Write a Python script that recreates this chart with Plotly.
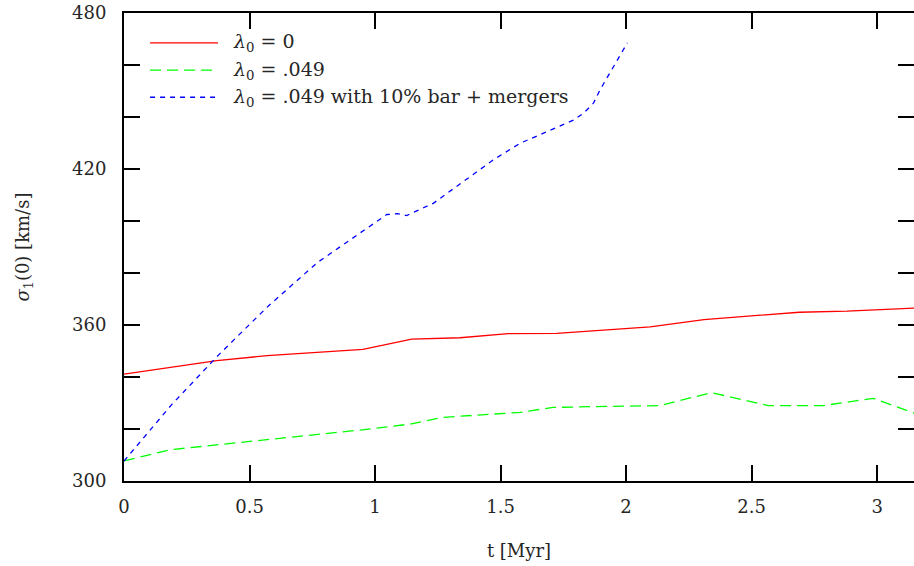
import plotly.graph_objects as go

# ---- data ----
t_red = [0, 0.19, 0.37, 0.57, 0.76, 0.952, 1.146, 1.339, 1.53, 1.724, 1.91, 2.096, 2.31, 2.5, 2.69, 2.88, 2.98, 3.15]
sig_red = [341.1, 343.9, 346.3, 348.2, 349.4, 350.6, 354.6, 355.1, 356.7, 356.8, 358.0, 359.3, 362.1, 363.6, 364.9, 365.3, 365.8, 366.5]

t_green = [0, 0.183, 0.38, 0.57, 0.76, 0.95, 1.14, 1.272, 1.578, 1.71, 1.92, 2.135, 2.34, 2.566, 2.786, 2.985, 3.15]
sig_green = [307.7, 312.0, 314.0, 315.9, 317.8, 319.7, 321.9, 324.5, 326.4, 328.3, 328.7, 329.0, 334.0, 329.0, 329.0, 331.8, 326.0]

t_blue = [0, 0.19, 0.38, 0.575, 0.77, 0.96, 1.047, 1.09, 1.126, 1.232, 1.352, 1.471, 1.578, 1.697, 1.79, 1.83, 1.87, 1.896, 1.95, 2.005]
sig_blue = [307.7, 329.4, 348.8, 367.3, 384.0, 396.8, 402.5, 402.8, 402.1, 406.8, 415.1, 423.5, 429.9, 435.0, 438.8, 441.4, 445.3, 450.4, 459.4, 468.5]

series_names = ["<i>λ</i><sub>0</sub> = 0",
                "<i>λ</i><sub>0</sub> = .049",
                "<i>λ</i><sub>0</sub> = .049 with 10% bar + mergers"]
series_colors = ["#ff0000", "#00ff00", "#0000ff"]
series_dash = ["solid", "11px,6px", "5px,5px"]

x_tickvals = [0, 0.5, 1, 1.5, 2, 2.5, 3]
x_ticktext = ["0", "0.5", "1", "1.5", "2", "2.5", "3"]
y_tickvals = [300, 360, 420, 480]
y_ticktext = ["300", "360", "420", "480"]
y_minor_step = 20

FONT = "DejaVu Serif"
FS = 18
TXT = "#262626"

fig = go.Figure()
for xs, ys, name, col, dash in zip([t_red, t_green, t_blue], [sig_red, sig_green, sig_blue],
                                   series_names, series_colors, series_dash):
    fig.add_trace(go.Scatter(x=xs, y=ys, mode="lines", name=name, showlegend=False,
                             line=dict(color=col, width=1.3, dash=dash)))

# invisible trace for the right-hand tick axis
fig.add_trace(go.Scatter(x=[], y=[], yaxis="y2", showlegend=False, hoverinfo="skip"))

# manual legend (long line samples like the reference)
leg_y = [0.936, 0.878, 0.820]
for name, col, dash, yy in zip(series_names, series_colors, series_dash, leg_y):
    fig.add_shape(type="line", xref="paper", yref="paper", x0=0.033, x1=0.119, y0=yy, y1=yy,
                  line=dict(color=col, width=1.3, dash=dash))
    fig.add_annotation(xref="paper", yref="paper", x=0.136, y=yy, text=name, showarrow=False,
                       xanchor="left", yanchor="middle", font=dict(family=FONT, size=19, color=TXT))

axis_common = dict(showgrid=False, zeroline=False, ticks="inside", ticklen=16, tickwidth=2,
                   tickcolor="black", linecolor="black", linewidth=2, ticklabeloverflow="allow",
                   tickfont=dict(family=FONT, size=FS, color=TXT))

fig.update_layout(
    width=914, height=566,
    margin=dict(l=124, r=0, t=13, b=85),
    paper_bgcolor="white", plot_bgcolor="white",
    xaxis=dict(range=[0, 3.147], tickvals=x_tickvals, ticktext=x_ticktext, showline=True,
               mirror="ticks", ticklabelstandoff=8,
               title=dict(text="t [Myr]", font=dict(family=FONT, size=FS, color=TXT), standoff=29),
               **axis_common),
    yaxis=dict(range=[300, 480], tickvals=y_tickvals, ticktext=y_ticktext, showline=True,
               mirror=False, ticklabelstandoff=12,
               minor=dict(dtick=y_minor_step, tick0=300, ticks="inside", ticklen=16, tickwidth=2,
                          tickcolor="black"),
               title=dict(text="<i>σ</i><sub>1</sub>(0) [km/s]",
                          font=dict(family=FONT, size=FS, color=TXT), standoff=38),
               **axis_common),
    yaxis2=dict(range=[300, 480], overlaying="y", side="right", showline=False, showgrid=False,
                zeroline=False, ticks="inside", ticklen=16, tickwidth=2, tickcolor="black",
                dtick=y_minor_step, tick0=300, showticklabels=False),
)

# remove the default page margin so the figure fills the 914x566 window exactly
fig.write_html("out.html",
               config={"displayModeBar": False},
               post_script="document.body.style.margin='0';document.body.style.overflow='hidden';")
